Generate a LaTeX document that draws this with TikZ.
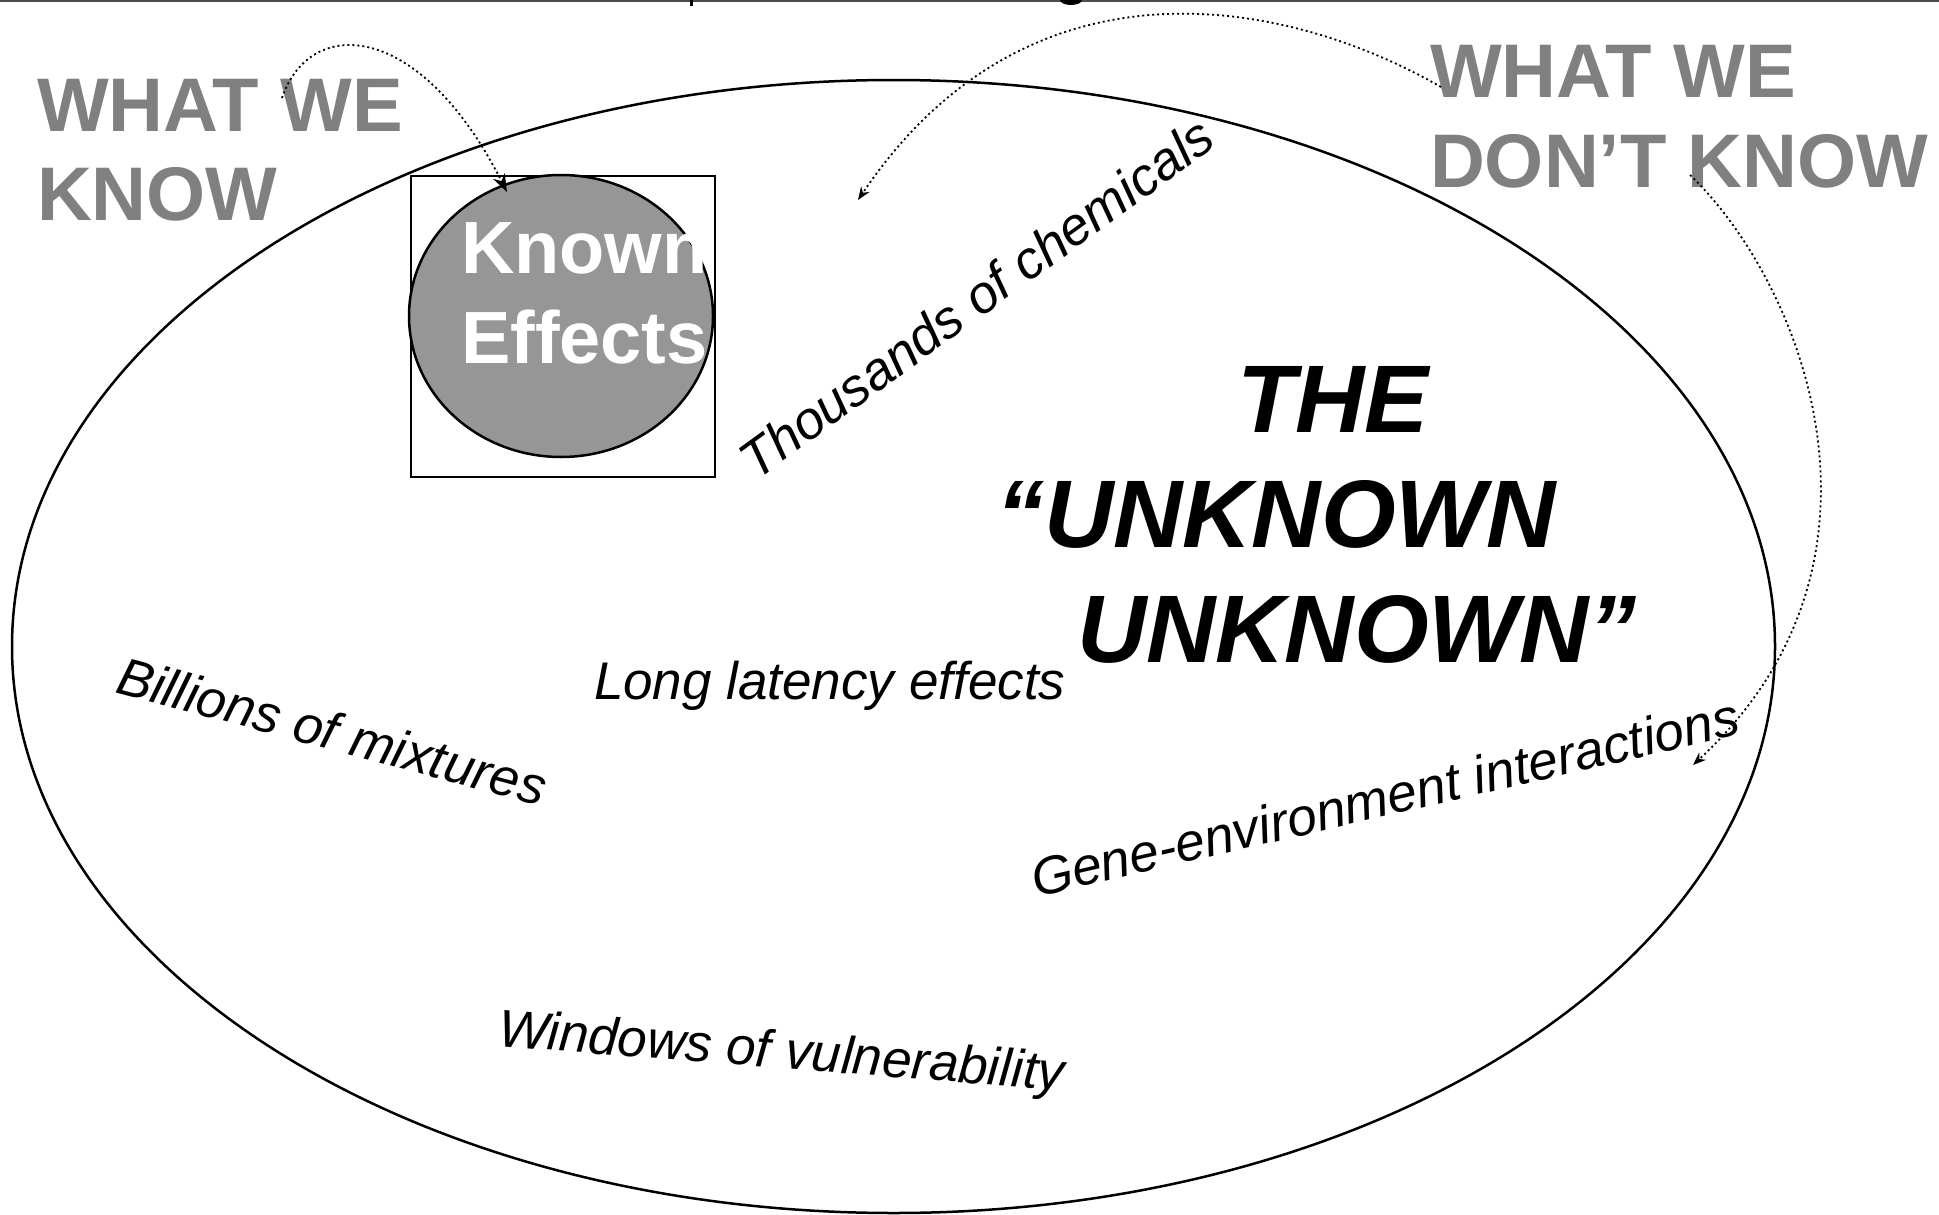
\documentclass[tikz,border=0pt]{standalone}
\usepackage{fontspec}
\setmainfont{Liberation Sans}
\usetikzlibrary{arrows.meta,shapes.geometric}
\definecolor{txtgray}{RGB}{128,128,128}
\definecolor{fillgray}{RGB}{150,150,150}
\begin{document}
\begin{tikzpicture}[x=1pt,y=-1pt,
  lbl/.style={inner sep=0pt, outer sep=0pt, anchor=base west},
  big/.style={lbl, text=txtgray, font=\fontsize{76}{76}\selectfont\bfseries},
  wht/.style={lbl, text=white, font=\fontsize{74}{74}\selectfont\bfseries},
  ital/.style={lbl, font=\fontsize{53}{53}\selectfont\itshape},
  unk/.style={lbl, font=\fontsize{96}{96}\selectfont\bfseries\itshape},
  dots/.style={line width=1.8pt, dash pattern=on 2pt off 3pt},
  outline/.style={draw, line width=2.5pt, inner sep=0pt, outer sep=0pt},
]
\useasboundingbox (0,0) rectangle (1939,1215);
% top rule (cut-off title)
\draw[line width=2pt, black!70] (0,1) -- (1939,1);
\fill (690,0) rectangle (693,6);
\fill (1071,0) ellipse [x radius=11, y radius=5];

% big ellipse
\node[outline, ellipse, minimum width=1763pt, minimum height=1133pt] (universe) at (893.5,646.5) {};

% known effects box and circle
\node[outline, rectangle, minimum width=304pt, minimum height=301pt] (frame) at (563,326.5) {};
\node[outline, ellipse, fill=fillgray, minimum width=304pt, minimum height=282pt] (effects) at (561,316) {};
\begin{scope}
\clip (400,170) rectangle (706,480);
\node[wht] (known) at (461,273) {Known};
\node[wht] (effx) at (461,363) {Effects};
\end{scope}

% headings
\node[big] (wk1) at (37,131) {WHAT WE};
\node[big] (wk2) at (37,220) {KNOW};
\node[big] (wd1) at (1430,98) {WHAT WE};
\node[big] (wd2) at (1430,187) {DON’T KNOW};

% the unknown unknown
\node[unk] (the) at (1237,432) {THE};
\node[unk] (unk1) at (996,547) {“UNKNOWN};
\node[unk] (unk2) at (1077,662) {UNKNOWN”};

% labels
\node[ital, rotate=36] (chem) at (756,481) {Thousands of chemicals};
\node[ital, rotate=-15] (mix) at (114,692) {Billions of mixtures};
\node[ital] (lat) at (594,699) {Long latency effects};
\node[ital, rotate=13] (gene) at (1036,897) {Gene-environment interactions};
\node[ital, rotate=-4.5] (win) at (497,1046) {Windows of vulnerability};

% dotted arrows
\coordinate (a1s) at (282,98);
\coordinate (a1e) at (507,192);
\coordinate (a2s) at (1441,87);
\coordinate (a2e) at (858,200);
\coordinate (a3s) at (1690,175);
\coordinate (a3e) at (1693,765);
\draw[dots, -{Stealth[length=18pt,width=13pt]}] (a1s) .. controls (310,15) and (420,20) .. (a1e);
\draw[dots, -{Stealth[length=13pt,width=10pt]}] (a2s) .. controls (1290,0) and (1030,-55) .. (a2e);
\draw[dots, -{Stealth[length=13pt,width=10pt]}] (a3s) .. controls (1800,280) and (1915,560) .. (a3e);
\end{tikzpicture}
\end{document}
